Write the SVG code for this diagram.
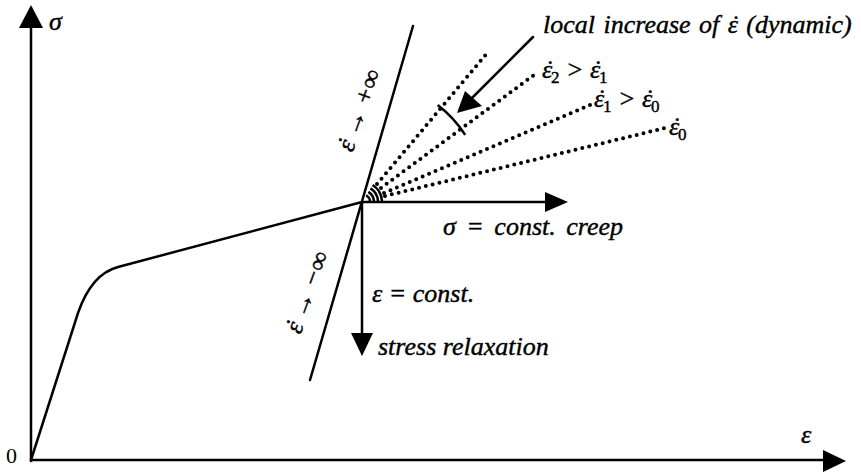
<svg xmlns="http://www.w3.org/2000/svg" width="861" height="472" viewBox="0 0 861 472">
<style>
.ln{fill:none;stroke:#000;stroke-width:2.5;stroke-linecap:round;stroke-linejoin:round}
.dot{fill:none;stroke:#000;stroke-width:4;stroke-linecap:round;stroke-dasharray:0 7}
.arc{fill:none;stroke:#000;stroke-width:2.5}
.hd{fill:#000;stroke:none}
.t{font-family:'Liberation Serif',serif;font-style:italic;font-size:26px;fill:#000;stroke:#000;stroke-width:0.4}
.s{font-style:normal;font-size:17px}
</style>
<rect width="861" height="472" fill="#fff"/>
<g id="axes">
<line class="ln" x1="31" y1="461" x2="31" y2="25"/>
<line class="ln" x1="31" y1="460" x2="826" y2="460"/>
<polygon class="hd" points="31,5 19,28 43,28"/>
<polygon class="hd" points="846,461 823,450 823,472"/>
<text class="t" font-size="28" x="49" y="30">σ</text>
<text font-family="'Liberation Serif', serif" font-size="22" x="6" y="463">0</text>
<text class="t" x="801" y="443">ε</text>
</g>
<g id="curve">
<path class="ln" d="M31,460 L78,313 Q91.5,274 118,267 L362,202"/>
</g>
<g id="steep-line">
<line class="ln" x1="413" y1="26" x2="310" y2="380"/>
<text class="t" font-size="25" transform="translate(367,113) rotate(-70)" text-anchor="middle">ε<tspan dx="-8">˙</tspan><tspan dx="-1"> → +∞</tspan></text>
<text class="t" font-size="25" transform="translate(315,295) rotate(-70)" text-anchor="middle">ε<tspan dx="-8">˙</tspan><tspan dx="-1"> → −∞</tspan></text>
</g>
<g id="rates">
<line class="dot" x1="377" y1="184" x2="488" y2="52"/>
<line class="dot" x1="381" y1="188" x2="538" y2="72"/>
<line class="dot" x1="384" y1="193" x2="590" y2="105"/>
<line class="dot" x1="385" y1="196" x2="665" y2="128"/>
<path class="arc" d="M369.99,201.58 A8,8 0 0 0 366.24,195.22"/>
<path class="arc" d="M373.98,201.37 A12,12 0 0 0 368.36,191.82"/>
<path class="arc" d="M377.98,201.16 A16,16 0 0 0 370.48,188.43"/>
<path class="arc" d="M381.97,200.95 A20,20 0 0 0 372.60,185.04"/>
<text class="t" x="542" y="78">ε<tspan dx="-8">˙</tspan><tspan class="s" dx="-2" dy="5">2</tspan><tspan dy="-5"> &gt; ε</tspan><tspan dx="-8">˙</tspan><tspan class="s" dx="-2" dy="5">1</tspan></text>
<text class="t" x="594" y="107">ε<tspan dx="-8">˙</tspan><tspan class="s" dx="-2" dy="5">1</tspan><tspan dy="-5"> &gt; ε</tspan><tspan dx="-8">˙</tspan><tspan class="s" dx="-2" dy="5">0</tspan></text>
<text class="t" x="669" y="135">ε<tspan dx="-8">˙</tspan><tspan class="s" dx="-2" dy="5">0</tspan></text>
</g>
<g id="dynamic">
<path class="arc" stroke-width="2" d="M437.7,105.1 A123,123 0 0 1 465.2,134.9"/>
<line class="ln" x1="533" y1="37" x2="470" y2="100"/>
<polygon class="hd" points="457,113 465,91 482,106"/>
<text class="t" x="543" y="33" word-spacing="2">local increase of ε<tspan dx="-8">˙</tspan><tspan dx="-1"> (dynamic)</tspan></text>
</g>
<g id="creep">
<line class="ln" x1="362" y1="202" x2="548" y2="202"/>
<polygon class="hd" points="568,202 545,192 545,212"/>
<text class="t" x="443" y="235" word-spacing="4">σ = const. creep</text>
</g>
<g id="relaxation">
<line class="ln" x1="362" y1="202" x2="362" y2="336"/>
<polygon class="hd" points="362,356 351,333 373,333"/>
<text class="t" x="372" y="302">ε = const.</text>
<text class="t" x="378" y="355">stress relaxation</text>
</g>
</svg>
